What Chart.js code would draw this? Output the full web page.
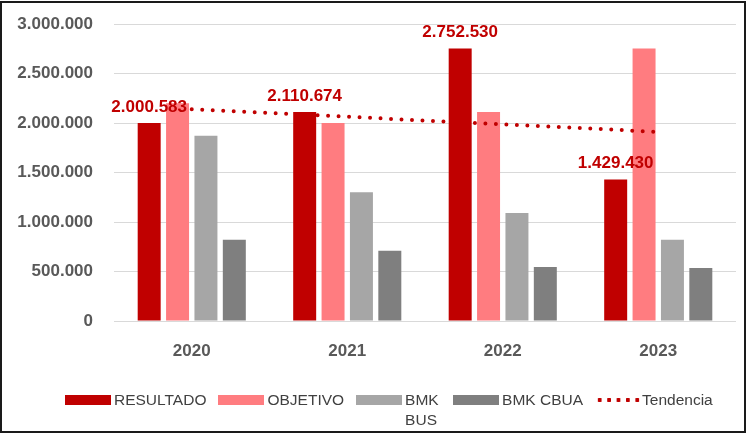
<!DOCTYPE html>
<html>
<head>
<meta charset="utf-8">
<script src="https://cdn.jsdelivr.net/npm/chart.js@4.4.1/dist/chart.umd.min.js"></script>
<style>
  html, body { margin: 0; padding: 0; background: #fff; }
  #frame { position: absolute; left: 0; top: 1px; width: 742px; height: 428px; border: 2px solid #1a1a1a; }
  #chart { position: absolute; left: 0; top: 0; }
  #legend { position: absolute; left: 65px; top: 390px; width: 680px; display: flex; align-items: flex-start;
            font-family: "Liberation Sans", Arial, sans-serif; font-size: 15.5px; color: #404040; }
  .item { display: flex; align-items: flex-start; margin-right: 12px; line-height: 20px; white-space: nowrap; flex: none; }
  .swatch { width: 46px; height: 10px; margin-top: 5px; margin-right: 3px; flex: none; }
  .dots { width: 45px; margin-right: 2px; background: radial-gradient(circle, #C00000 2px, transparent 2.4px) 0 0 / 9.4px 10px repeat-x; }
</style>
</head>
<body>
<div id="frame"></div>
<canvas id="chart" width="748" height="434"></canvas>
<div id="legend"></div>
<script>
// Annual figures per year
const categories = ['2020', '2021', '2022', '2023'];
const resultado  = [2000583, 2110674, 2752530, 1429430];
const objetivo   = [2200000, 2000583, 2110674, 2752530];
const bmkBus     = [1870000, 1300000, 1090000, 820000];
const bmkCbua    = [820000, 710000, 545000, 535000];
const tendencia  = [2140000, 2063000, 1987000, 1910000];
const yTicks     = [0, 500000, 1000000, 1500000, 2000000, 2500000, 3000000];

const FONT = '"Liberation Sans", Arial, sans-serif';
const fmt = v => String(Math.round(v)).replace(/\B(?=(\d{3})+(?!\d))/g, '.');

// Value labels above the RESULTADO bars
const valueLabels = {
  id: 'valueLabels',
  afterDatasetsDraw(chart) {
    const meta = chart.getDatasetMeta(0);
    const ctx = chart.ctx;
    ctx.save();
    ctx.font = 'bold 17px ' + FONT;
    ctx.fillStyle = '#C00000';
    ctx.textAlign = 'center';
    ctx.textBaseline = 'alphabetic';
    meta.data.forEach((bar, i) => ctx.fillText(fmt(resultado[i]), bar.x, bar.y - 11));
    ctx.restore();
  }
};

const chart = new Chart(document.getElementById('chart'), {
  type: 'bar',
  data: {
    labels: categories,
    datasets: [
      { label: 'RESULTADO', data: resultado, backgroundColor: '#C00000', order: 1 },
      { label: 'OBJETIVO',  data: objetivo,  backgroundColor: '#FF7C80', order: 1 },
      { label: 'BMK BUS',   data: bmkBus,    backgroundColor: '#A6A6A6', order: 1 },
      { label: 'BMK CBUA',  data: bmkCbua,   backgroundColor: '#7F7F7F', order: 1 },
      { type: 'line', label: 'Tendencia', data: tendencia, borderColor: '#C00000',
        borderWidth: 4, borderDash: [0, 10.5], borderCapStyle: 'round',
        pointRadius: 0, fill: false, tension: 0, order: 0 }
    ]
  },
  options: {
    responsive: false,
    animation: false,
    layout: { padding: { top: 24, right: 12, bottom: 0, left: 0 } },
    datasets: { bar: { categoryPercentage: 0.73, barPercentage: 0.81 } },
    plugins: { legend: { display: false }, tooltip: { enabled: false } },
    scales: {
      x: {
        grid: { display: false },
        border: { display: false },
        ticks: { color: '#595959', font: { family: FONT, size: 17, weight: 'bold' }, padding: 12 },
        afterFit: s => { s.height = 113; s.paddingLeft = 0; s.paddingRight = 0; }
      },
      y: {
        min: 0, max: 3000000,
        afterBuildTicks: s => { s.ticks = yTicks.map(v => ({ value: v })); },
        grid: { color: '#D9D9D9', drawTicks: false },
        border: { display: false },
        ticks: { color: '#595959', font: { family: FONT, size: 17, weight: 'bold' }, padding: 21,
                 callback: v => fmt(v) },
        afterFit: s => { s.width = 114; s.paddingTop = 0; s.paddingBottom = 0; }
      }
    }
  },
  plugins: [valueLabels]
});

// Legend below the plot
const legend = document.getElementById('legend');
const wrapped = { 'BMK BUS': 36 };
chart.data.datasets.forEach(ds => {
  const item = document.createElement('div');
  item.className = 'item';
  const sw = document.createElement('div');
  sw.className = 'swatch';
  if (ds.type === 'line') sw.classList.add('dots');
  else sw.style.background = ds.backgroundColor;
  const txt = document.createElement('div');
  txt.textContent = ds.label;
  if (wrapped[ds.label]) { txt.style.maxWidth = wrapped[ds.label] + 'px'; txt.style.whiteSpace = 'normal'; }
  item.appendChild(sw);
  item.appendChild(txt);
  legend.appendChild(item);
});
</script>
</body>
</html>
